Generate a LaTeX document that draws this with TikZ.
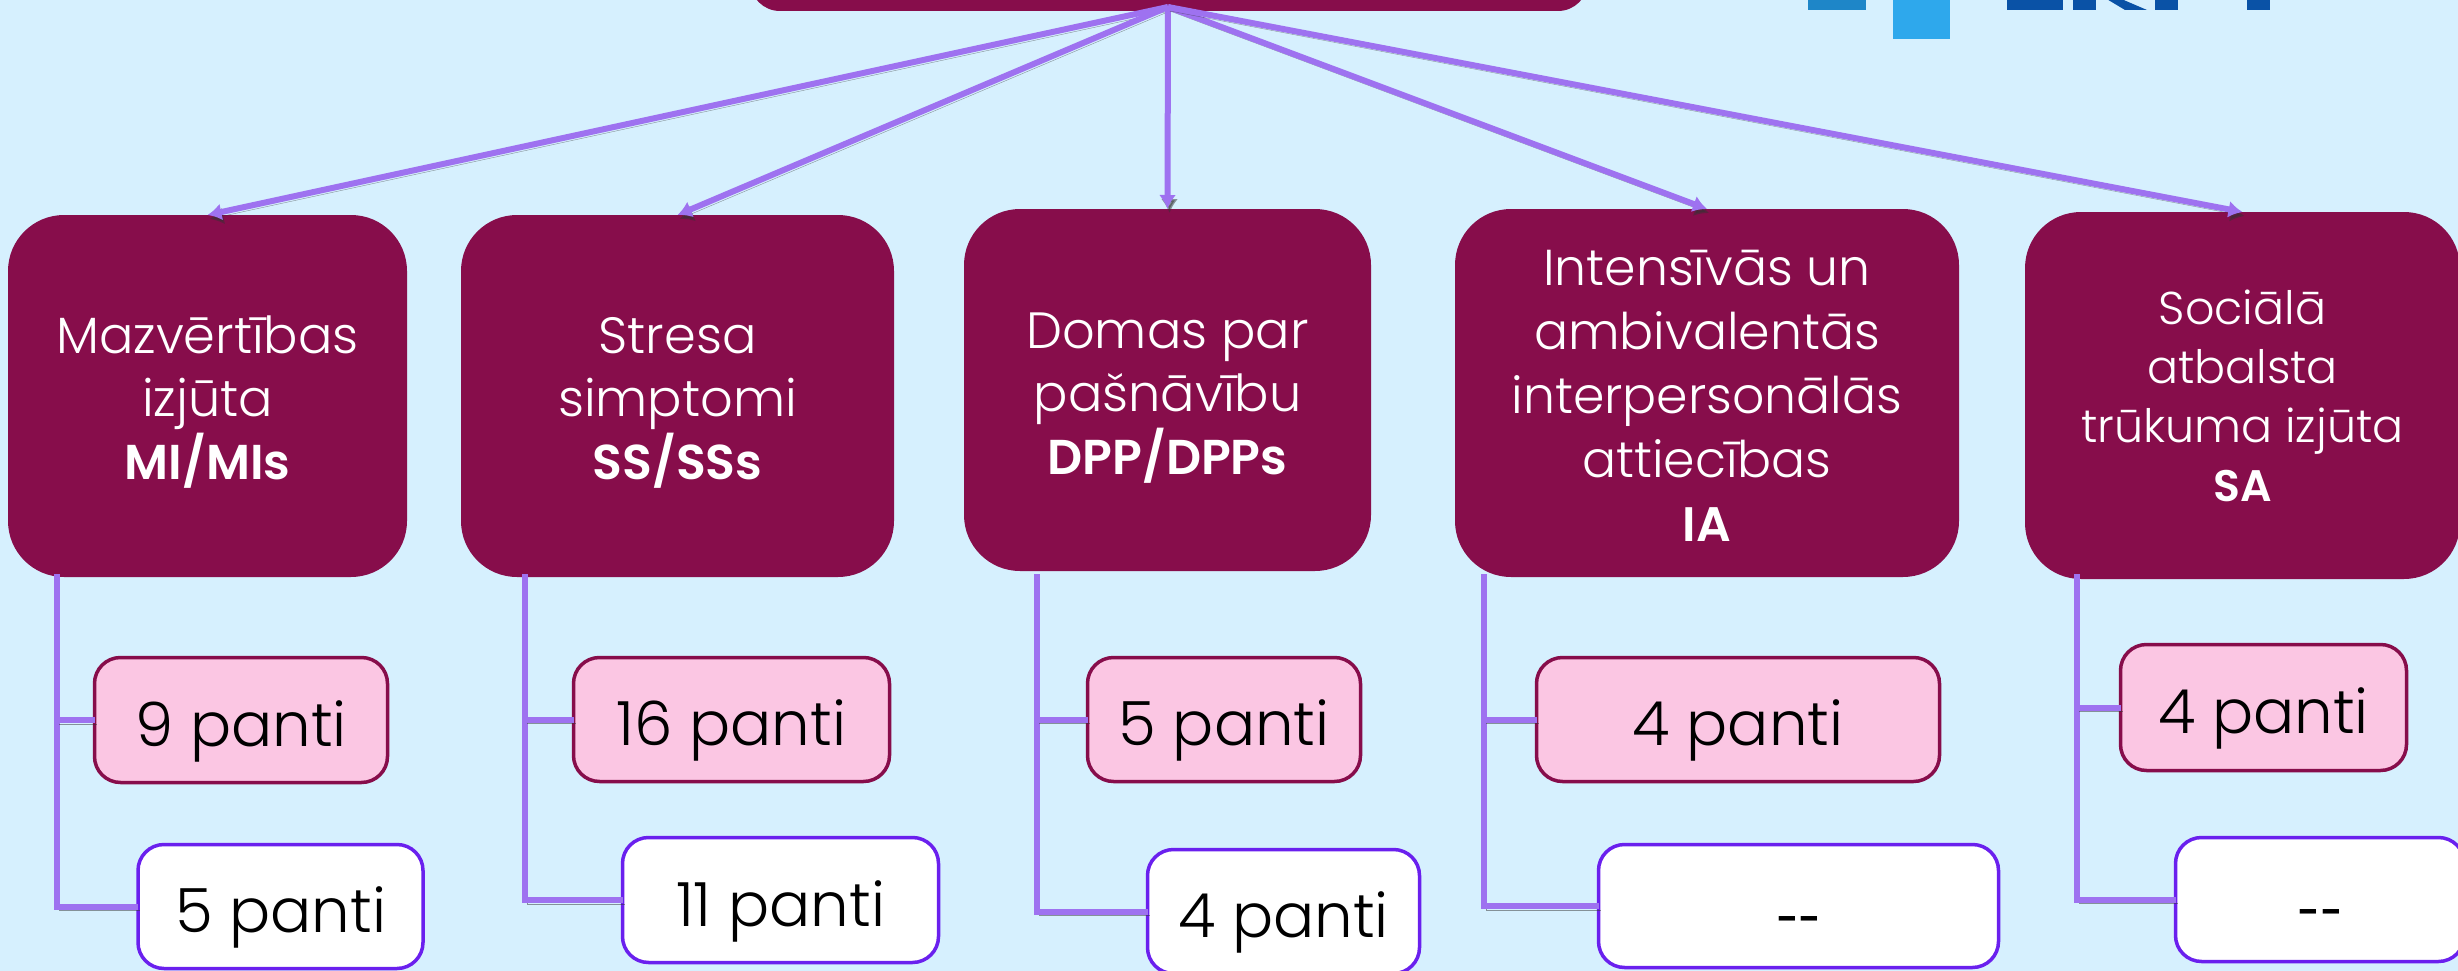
\documentclass[tikz,border=0pt]{standalone}
\usepackage{xcolor}
\usepackage{fontspec}
\usepackage{tikz}
\usetikzlibrary{arrows.meta}
\setmainfont{Poppins}[UprightFont=* Light, BoldFont=* SemiBold, BoldFeatures={Scale=0.96}]
\definecolor{paper}{HTML}{D6F0FE}
\definecolor{wine}{HTML}{870D4B}
\definecolor{rose}{HTML}{FBC6E3}
\definecolor{violet}{HTML}{6A20EE}
\definecolor{lilac}{HTML}{9E72F0}
\definecolor{logoA}{HTML}{1E86C8}
\definecolor{logoB}{HTML}{2EA8EC}
\definecolor{logoC}{HTML}{0A52A6}
\newcommand{\pad}[1]{\rule{0pt}{#1pt}}

\begin{document}
\begin{tikzpicture}[x=1pt, y=-1pt,
  main/.style = {fill=wine, text=white, rounded corners=56pt, inner sep=0pt, outer sep=0pt, align=center, font=\fontsize{51}{63}\selectfont},
  count/.style = {draw, line width=3.5pt, rounded corners=26pt, inner sep=0pt, outer sep=0pt, text height=66pt, text depth=14pt, font=\fontsize{61}{70}\selectfont},
  yes/.style = {count, draw=wine, fill=rose},
  no/.style = {count, draw=violet, fill=white},
  none/.style = {no, font=\fontsize{40}{50}\bfseries\selectfont},
  cast/.style = {preaction={draw=black!80, opacity=.5, transform canvas={xshift=2pt, yshift=-4pt}}},
  conn/.style = {draw=lilac, line width=6pt, cast},
  feed/.style = {conn, -{Latex[length=14pt,width=17pt]}}]
\clip (0,0) rectangle (2458,971);
\useasboundingbox (0,0) rectangle (2458,971);
\fill[paper] (0,0) rectangle (2458,971);

% logo, cut by the top edge
\fill[logoA] (1808,-5) rectangle (1866,10);
\fill[logoB] (1893,-5) rectangle (1950,39);
\fill[logoC] (2007,-5) rectangle (2063,10);
\fill[logoC] (2073,-5) rectangle (2096,10);
\fill[logoC] (2112,-5) -- (2147,10) -- (2125,10) -- (2100,-5) -- cycle;
\fill[logoC] (2155,-5) rectangle (2178,10);
\fill[logoC] (2247,-5) rectangle (2270,10);

\node[main, rounded corners=30pt, minimum width=838pt, minimum height=91pt] (root) at (1169,-34.5) {};

\node[main, minimum width=399pt, minimum height=362pt] (MI) at (207.5,396) {\pad{50}Mazvērtības\\izjūta\\\textbf{MI/MIs}};
\node[main, minimum width=433pt, minimum height=362pt] (SS) at (677.5,396) {\pad{50}Stresa\\simptomi\\\textbf{SS/SSs}};
\node[main, minimum width=407pt, minimum height=362pt] (DPP) at (1167.5,390) {\pad{51}Domas par\\pašnāvību\\\textbf{DPP/DPPs}};
\node[main, minimum width=504pt, minimum height=368pt, font=\fontsize{50.5}{64}\selectfont] (IA) at (1707,393) {\pad{40}Intensīvās un\\ambivalentās\\interpersonālās\\attiecības\\\textbf{IA}};
\node[main, minimum width=435pt, minimum height=367pt, font=\fontsize{46}{59}\selectfont] (SA) at (2242.5,395.5) {Sociālā\\atbalsta\\trūkuma izjūta\\\textbf{SA}};

\node[yes, minimum width=293pt, minimum height=125pt] (MIa) at (241,720) {9 panti};
\node[no, minimum width=285pt, minimum height=124pt] (MIb) at (280.5,906.5) {5 panti};
\node[yes, minimum width=316pt, minimum height=124pt] (SSa) at (731.5,719.5) {16 panti};
\node[no, minimum width=316pt, minimum height=125pt] (SSb) at (780.5,900) {11 panti};
\node[yes, minimum width=273pt, minimum height=124pt] (DPPa) at (1224,719.5) {5 panti};
\node[no, minimum width=272pt, minimum height=124pt] (DPPb) at (1283.5,911.5) {4 panti};
\node[yes, minimum width=403pt, minimum height=124pt] (IAa) at (1738,719.5) {4 panti};
\node[none, minimum width=400pt, minimum height=123pt] (IAb) at (1798.5,906) {{-}{-}};
\node[yes, minimum width=286pt, minimum height=126pt] (SAa) at (2263.5,707.5) {4 panti};
\node[none, minimum width=289pt, minimum height=124pt] (SAb) at (2320,899.5) {{-}{-}};

\coordinate (apex) at (1168,7);
\draw[feed] (apex) -- (MI.north);
\draw[feed] (apex) -- (SS.north);
\draw[feed] (apex) -- (DPP.north);
\draw[feed] (apex) -- (IA.north);
\draw[feed] (apex) -- (SA.north);

\coordinate (MIt) at (57,574);
\coordinate (SSt) at (525,574);
\coordinate (DPPt) at (1037,574);
\coordinate (IAt) at (1484,574);
\coordinate (SAt) at (2077,574);

\draw[conn] (MIt) -- (MIt |- MIb.west) -- (MIb.west);
\draw[conn] (MIt |- MIa.west) -- (MIa.west);
\draw[conn] (SSt) -- (SSt |- SSb.west) -- (SSb.west);
\draw[conn] (SSt |- SSa.west) -- (SSa.west);
\draw[conn] (DPPt) -- (DPPt |- DPPb.west) -- (DPPb.west);
\draw[conn] (DPPt |- DPPa.west) -- (DPPa.west);
\draw[conn] (IAt) -- (IAt |- IAb.west) -- (IAb.west);
\draw[conn] (IAt |- IAa.west) -- (IAa.west);
\draw[conn] (SAt) -- (SAt |- SAb.west) -- (SAb.west);
\draw[conn] (SAt |- SAa.west) -- (SAa.west);
\end{tikzpicture}
\end{document}
